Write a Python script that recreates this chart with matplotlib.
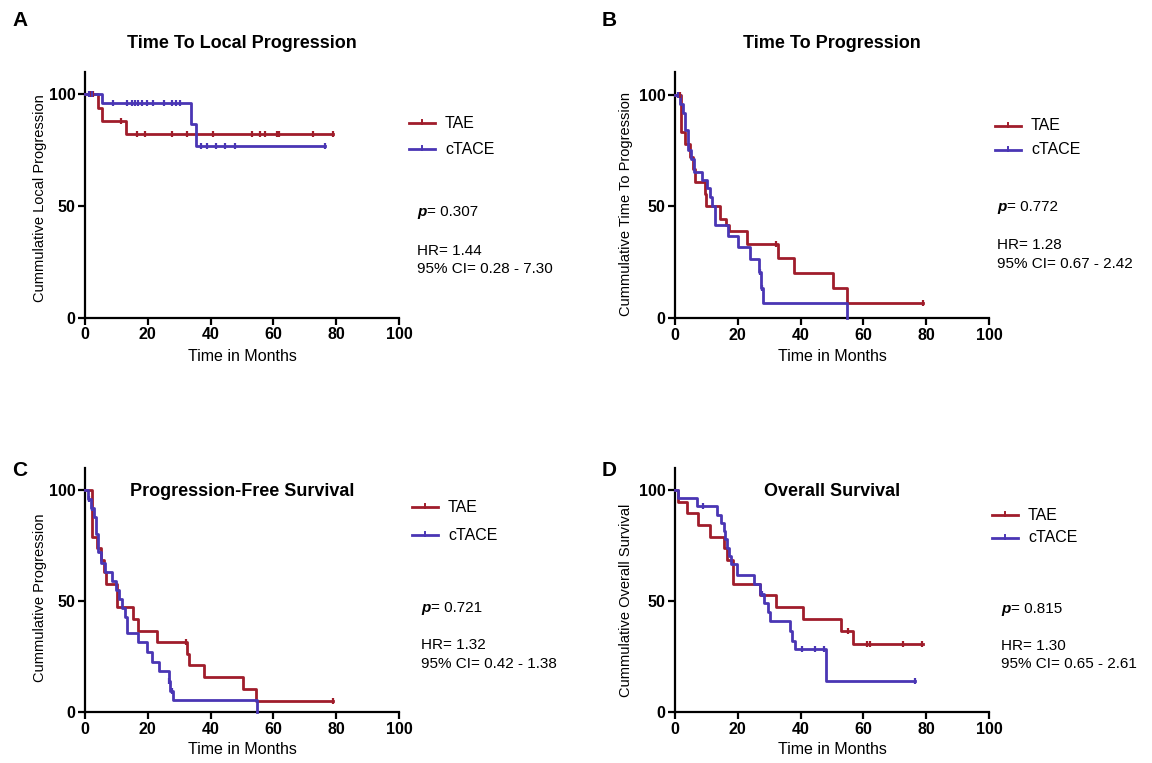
import numpy as np
import matplotlib
matplotlib.use("Agg")
import matplotlib.pyplot as plt
from matplotlib.lines import Line2D

plt.rcParams['font.family'] = ['Liberation Sans', 'DejaVu Sans']

W, H = 1152, 763
RED = "#A01D2B"
BLUE = "#4A36B4"

groups = ["TAE", "cTACE"]

# ---------- Panel A: Time To Local Progression ----------
a_tae_t = [4.0, 5.3, 13.1]
a_tae_s = [94.1, 88.2, 82.4]
a_tae_end = 79.0
a_tae_cens = [1.6, 2.6, 11.4, 16.5, 19.2, 27.6, 32.4, 40.9, 53.1, 55.7, 57.3, 61.0, 61.9, 72.7, 79.0]
a_cta_t = [5.3, 33.6, 35.5]
a_cta_s = [96.3, 86.7, 77.0]
a_cta_end = 76.4
a_cta_cens = [1.2, 2.2, 9.0, 13.3, 14.9, 16.0, 17.0, 18.0, 19.8, 21.8, 25.0, 27.6, 28.9, 30.2,
              37.1, 38.7, 41.7, 44.6, 47.8, 76.4]

# ---------- Panel B: Time To Progression ----------
b_tae_t = [1.8, 3.2, 4.8, 5.6, 6.4, 9.6, 9.9, 14.3, 16.2, 17.3, 22.8, 32.8, 37.9, 50.2, 54.7]
b_tae_s = [83.3, 77.8, 72.2, 66.7, 61.1, 55.6, 50.0, 44.4, 41.7, 38.9, 33.3, 26.7, 20.0, 13.3, 6.7]
b_tae_end = 79.0
b_tae_cens = [1.5, 32.3, 79.0]
b_cta_t = [1.5, 2.5, 3.3, 4.0, 5.0, 6.0, 8.5, 10.2, 11.2, 11.8, 12.7, 17.0, 20.2, 23.9, 26.9, 27.4,
           27.9, 54.7]
b_cta_s = [96.0, 92.0, 84.0, 75.0, 71.0, 65.5, 62.0, 58.0, 54.0, 50.0, 41.7, 36.6, 31.6, 26.5, 20.5,
           13.5, 6.7, 0.0]
b_cta_end = 54.7
b_cta_cens = [0.9, 27.2, 27.6]

# ---------- Panel C: Progression-Free Survival ----------
c_tae_t = [2.1, 3.7, 5.0, 6.0, 6.7, 10.1, 15.4, 17.0, 23.0, 32.4, 33.0, 37.9, 50.2, 54.5]
c_tae_s = [78.9, 73.7, 68.4, 63.2, 57.9, 47.4, 42.1, 36.8, 31.6, 26.3, 21.1, 15.8, 10.5, 5.3]
c_tae_end = 79.0
c_tae_cens = [32.2, 79.0]
c_cta_t = [1.0, 2.0, 2.8, 3.5, 4.0, 5.0, 6.4, 8.5, 9.8, 10.8, 11.8, 12.7, 13.5, 17.0, 19.6, 21.2,
           23.7, 26.6, 27.2, 28.0, 54.7]
c_cta_s = [96.0, 92.0, 88.0, 80.0, 72.0, 67.0, 63.0, 59.0, 55.0, 51.0, 47.0, 43.0, 35.5, 31.5,
           27.0, 22.7, 18.5, 14.0, 9.5, 5.5, 0.0]
c_cta_end = 54.7
c_cta_cens = [1.3, 2.3, 26.8, 27.6]

# ---------- Panel D: Overall Survival ----------
d_tae_t = [1.1, 3.7, 7.4, 11.1, 15.6, 16.5, 18.6, 27.1, 32.2, 40.7, 52.8, 56.8]
d_tae_s = [94.7, 89.5, 84.2, 78.9, 73.7, 68.4, 57.9, 52.6, 47.4, 42.1, 36.8, 30.7]
d_tae_end = 79.0
d_tae_cens = [55.2, 61.0, 62.1, 72.5, 78.6]
d_cta_t = [1.0, 7.0, 13.3, 14.5, 15.5, 16.0, 16.5, 17.2, 17.8, 19.6, 25.0, 27.0, 28.5, 29.5, 30.3,
           36.5, 37.2, 38.3, 48.0]
d_cta_s = [96.3, 92.6, 88.9, 85.2, 81.5, 77.8, 74.1, 70.4, 66.7, 61.6, 57.5, 53.3, 49.2, 45.1,
           41.0, 36.4, 31.9, 28.5, 14.2]
d_cta_end = 76.4
d_cta_cens = [9.0, 27.8, 40.5, 44.5, 47.5, 76.4]

titles = ["Time To Local Progression", "Time To Progression",
          "Progression-Free Survival", "Overall Survival"]
letters = ["A", "B", "C", "D"]
ylabels = ["Cummulative Local Progression", "Cummulative Time To Progression",
           "Cummulative Progression", "Cummulative Overall Survival"]
xlabel = "Time in Months"
p_values = ["0.307", "0.772", "0.721", "0.815"]
hr_values = ["1.44", "1.28", "1.32", "1.30"]
ci_values = ["0.28 - 7.30", "0.67 - 2.42", "0.42 - 1.38", "0.65 - 2.61"]
xticks = [0, 20, 40, 60, 80, 100]
yticks = [0, 50, 100]

panels = [
    ((a_tae_t, a_tae_s, a_tae_end, a_tae_cens), (a_cta_t, a_cta_s, a_cta_end, a_cta_cens)),
    ((b_tae_t, b_tae_s, b_tae_end, b_tae_cens), (b_cta_t, b_cta_s, b_cta_end, b_cta_cens)),
    ((c_tae_t, c_tae_s, c_tae_end, c_tae_cens), (c_cta_t, c_cta_s, c_cta_end, c_cta_cens)),
    ((d_tae_t, d_tae_s, d_tae_end, d_tae_cens), (d_cta_t, d_cta_s, d_cta_end, d_cta_cens)),
]

# layout (pixels): left, right, y of 0, y of top(110)
layout = [(85, 399, 317.7, 72.0), (675, 989, 318.0, 72.3),
          (85, 399, 712.3, 467.8), (675, 989, 712.3, 467.8)]
letter_pos = [(20, 21), (609, 21), (20, 471), (609, 471)]
title_pos = [(242, 43), (832, 43), (242, 492), (832, 492)]
ylabel_pos = [(40, 198), (626, 204), (40, 598), (626, 600)]
xlabel_pos = [(242, 356), (832, 356), (242, 750), (832, 750)]
leg_pos = [(409, 123), (995, 126), (412, 507), (992, 515)]
leg_gap = [26, 24, 28, 23]
stat_pos = [(417, 216, 255, 273), (997, 211, 249, 268), (421, 612, 649, 668), (1001, 613, 650, 668)]

fig = plt.figure(figsize=(W / 100, H / 100), dpi=100)


def fx(x):
    return x / W


def fy(y):
    return 1 - y / H


def step_arrays(t, s, end):
    tt = [0.0] + list(t)
    ss = [100.0] + list(s)
    if end > tt[-1]:
        tt.append(end)
        ss.append(ss[-1])
    return np.array(tt), np.array(ss)


texts_p = []
for i, (curves, lay) in enumerate(zip(panels, layout)):
    l, r, y0, yt = lay
    ax = fig.add_axes([fx(l), fy(y0), (r - l) / W, (y0 - yt) / H])
    for (t, s, end, cens), col in zip(curves, [RED, BLUE]):
        tt, ss = step_arrays(t, s, end)
        ax.step(tt, ss, where="post", color=col, lw=2.0, clip_on=False, zorder=3)
        cx = np.array(cens)
        idx = np.searchsorted(tt, cx, side="right") - 1
        cy = ss[np.clip(idx, 0, len(ss) - 1)]
        ax.plot(cx, cy, ls="none", marker="|", ms=5, mew=1.6, color=col, clip_on=False, zorder=4)
    ax.set_xlim(0, 100)
    ax.set_ylim(0, 110)
    ax.set_xticks(xticks)
    ax.set_yticks(yticks)
    for sp in ["top", "right"]:
        ax.spines[sp].set_visible(False)
    for sp in ["left", "bottom"]:
        ax.spines[sp].set_linewidth(1.6)
    ax.tick_params(direction="out", length=5, width=1.6, labelsize=11.5, pad=2)
    for lab in ax.get_xticklabels() + ax.get_yticklabels():
        lab.set_fontweight("bold")

    fig.text(fx(letter_pos[i][0]), fy(letter_pos[i][1]), letters[i], fontsize=15,
             fontweight="bold", ha="center", va="center")
    fig.text(fx(title_pos[i][0]), fy(title_pos[i][1]), titles[i], fontsize=13,
             fontweight="bold", ha="center", va="center")
    fig.text(fx(ylabel_pos[i][0]), fy(ylabel_pos[i][1]), ylabels[i], fontsize=10.5,
             rotation=90, ha="center", va="center")
    fig.text(fx(xlabel_pos[i][0]), fy(xlabel_pos[i][1]), xlabel, fontsize=11.5,
             ha="center", va="center")

    lx, ly = leg_pos[i]
    for k, col in enumerate([RED, BLUE]):
        yy = ly + k * leg_gap[i]
        fig.add_artist(Line2D([fx(lx), fx(lx + 26)], [fy(yy), fy(yy)], color=col, lw=2.0))
        fig.add_artist(Line2D([fx(lx + 13), fx(lx + 13)], [fy(yy - 3), fy(yy + 0.5)],
                              color=col, lw=1.4))
        fig.text(fx(lx + 36), fy(yy), groups[k], fontsize=11.5, ha="left", va="center")

    sx, py, hy, cy_ = stat_pos[i]
    tp = fig.text(fx(sx), fy(py), "p", fontsize=11, fontweight="bold", style="italic",
                  ha="left", va="baseline")
    texts_p.append((tp, p_values[i], py))
    fig.text(fx(sx), fy(hy), "HR= " + hr_values[i], fontsize=11, ha="left", va="baseline")
    fig.text(fx(sx), fy(cy_), "95% CI= " + ci_values[i], fontsize=11, ha="left", va="baseline")

fig.canvas.draw()
for tp, pv, py in texts_p:
    bb = tp.get_window_extent()
    x1 = bb.x1 / fig.bbox.width
    fig.text(x1 + 0.5 / W, fy(py), "= " + pv, fontsize=11, ha="left", va="baseline")

fig.savefig("out.png", dpi=100)
